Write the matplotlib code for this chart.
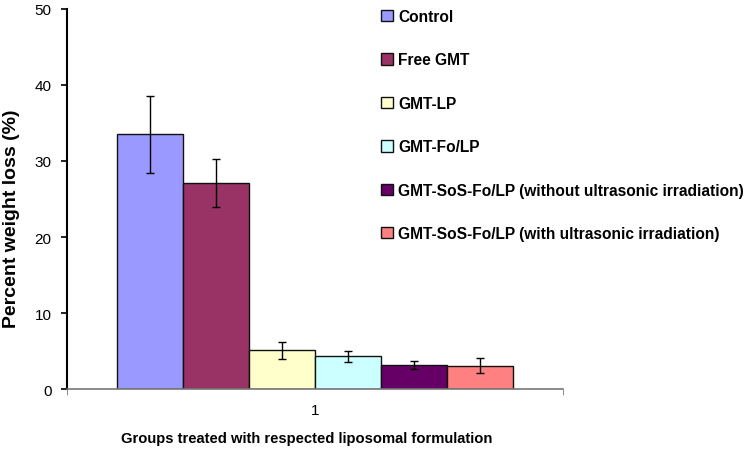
import matplotlib
matplotlib.use("Agg")
import matplotlib.pyplot as plt

groups = ["Control", "Free GMT", "GMT-LP", "GMT-Fo/LP",
          "GMT-SoS-Fo/LP (without ultrasonic irradiation)",
          "GMT-SoS-Fo/LP (with ultrasonic irradiation)"]
values = [33.5, 27.1, 5.1, 4.3, 3.2, 3.1]
errors = [5.1, 3.1, 1.1, 0.7, 0.5, 1.0]
colors = ["#9999FF", "#993366", "#FFFFCC", "#CCFFFF", "#660066", "#FF8080"]
category = [1]

plt.rcParams['font.family'] = ['Liberation Sans', 'DejaVu Sans']

fig = plt.figure(figsize=(7.5, 4.52), dpi=100)
ax = fig.add_axes([0.0893, 0.137, 0.6614, 0.841])

n = len(values)
width = 0.133
for i, (v, e, c, g) in enumerate(zip(values, errors, colors, groups)):
    x = category[0] + (i - (n - 1) / 2) * width
    ax.bar(x, v, width=width, color=c, edgecolor="#111111", linewidth=1.0,
           label=g, zorder=2)
    ax.errorbar(x, v, yerr=e, fmt="none", ecolor="black", elinewidth=1.0,
                capsize=3, capthick=1.0, zorder=3)

ax.set_xlim(0.5, 1.5)
ax.set_ylim(0, 50)
ax.set_yticks([0, 10, 20, 30, 40, 50])
ax.set_xticks(category)
ax.set_xticklabels([str(c) for c in category])
ax.set_xticks([0.5, 1.5], minor=True)
ax.tick_params(axis="x", which="major", length=0, labelsize=11, pad=10)
ax.tick_params(axis="x", which="minor", length=4, direction="out", color="#777777")
ax.tick_params(axis="y", length=4, direction="out", width=1.2, labelsize=11, pad=7)

for s in ["top", "right"]:
    ax.spines[s].set_visible(False)
ax.spines["left"].set_linewidth(1.5)
ax.spines["left"].set_color("black")
ax.spines["bottom"].set_color("#777777")
ax.spines["bottom"].set_linewidth(1.2)

ax.set_ylabel("Percent weight loss (%)", fontsize=14, fontweight="bold")
ax.yaxis.set_label_coords(-0.095, 0.45)
ax.set_xlabel("Groups treated with respected liposomal formulation", fontsize=10.6,
              fontweight="bold", labelpad=10)
ax.xaxis.label.set_x(0.483)

leg = fig.legend(loc="upper left", bbox_to_anchor=(0.5, 0.992), frameon=False,
                 prop={"weight": "bold", "size": 11.2}, handlelength=0.75,
                 handleheight=0.75, handletextpad=0.35, labelspacing=1.83,
                 borderaxespad=0)

fig.savefig("out.png", dpi=100)
